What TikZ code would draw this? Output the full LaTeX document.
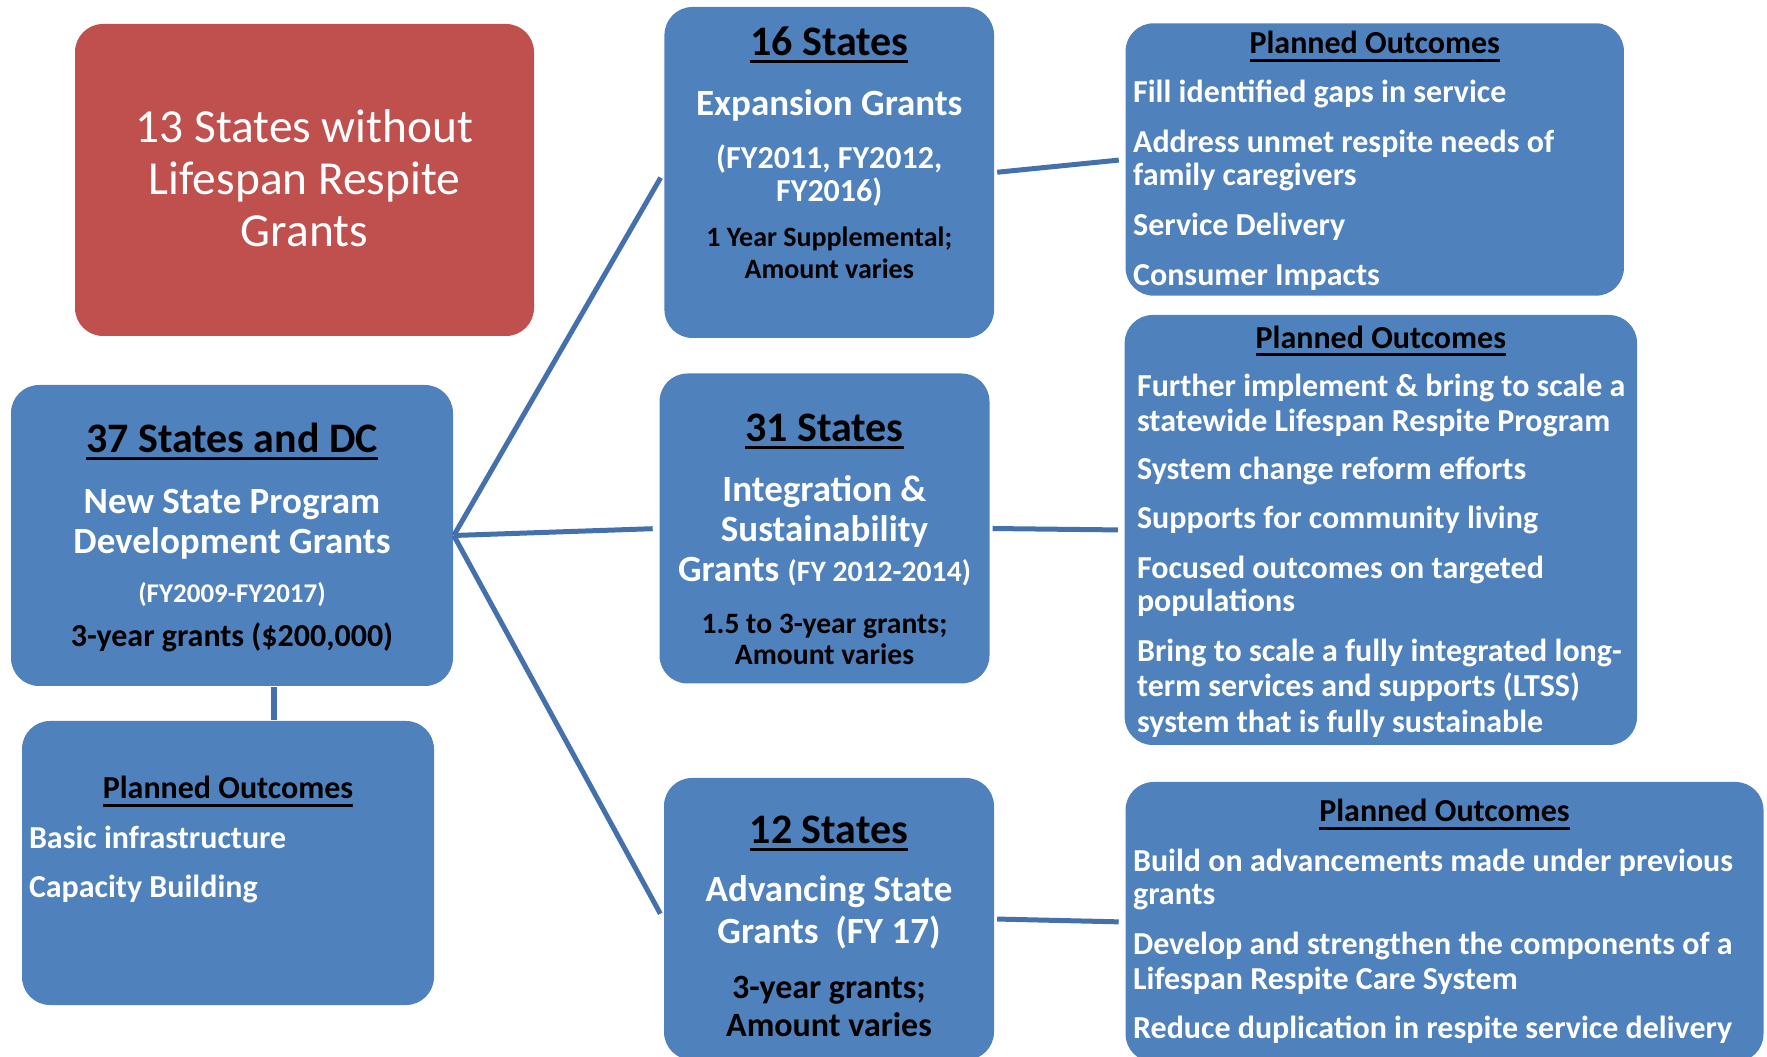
\documentclass[tikz,border=0pt]{standalone}
\usepackage{fontspec}
\setmainfont{Carlito}
\definecolor{grantblue}{HTML}{4F81BD}
\definecolor{grantred}{HTML}{C0504D}
\definecolor{linkblue}{HTML}{4471AB}
\newcommand{\fs}[2]{\fontsize{#1}{#2}\selectfont}
\newsavebox{\hdlbox}
\newcommand{\hdl}[1]{\sbox{\hdlbox}{#1}\rlap{\rule[-2pt]{\wd\hdlbox}{0.75pt}}\usebox{\hdlbox}}
\newcommand{\pane}[3]{\begin{minipage}[c][#2][t]{#1}#3\end{minipage}}
\begin{document}
\begin{tikzpicture}[x=0.25pt,y=-0.25pt,
   box/.style={rounded corners=7pt,inner sep=0pt,text=white},
   redbox/.style={box,fill=grantred},
   bluebox/.style={box,fill=grantblue,font=\bfseries},
   link/.style={draw=linkblue,line width=1.25pt,shorten >=1.5pt}]
   \useasboundingbox (0,0) rectangle (1767,1057);
   \clip (0,0) rectangle (1767,1057);

   \node[redbox] (r13) at (304.5,180) {\pane{114.75pt}{78pt}{\centering
      \fs{11.85}{13}\rule{0pt}{29.6pt}13 States without\\
      Lifespan Respite\\
      Grants}};

   \node[bluebox] (g37) at (232,535.5) {\pane{110.5pt}{75.25pt}{\centering
      \fs{10.5}{12}\rule{0pt}{16.8pt}\textcolor{black}{\hdl{37 States and DC}}\\
      \fs{9.25}{15.4}New State Program\\
      \fs{9.25}{9.9}Development Grants\\
      \fs{6.75}{12.3}(FY2009-FY2017)\\
      \fs{8}{11.1}\textcolor{black}{3-year grants (\$200,000)}}};

   \node[bluebox] (po37) at (228,863) {\pane{103pt}{71pt}{%
      \fs{8}{9}{\centering\rule{0pt}{19.4pt}\textcolor{black}{\hdl{Planned Outcomes}}\par}
      \leftskip=1.75pt\relax \rightskip=0pt plus 1fil\relax
      \fs{8}{12.4}Basic infrastructure\par
      \fs{8}{12.3}Capacity Building\par}};
   %%%%%%%%%%
   \node[bluebox] (s16) at (829.25,172.5) {\pane{82.4pt}{82.75pt}{\centering
      \fs{10.5}{12}\rule{0pt}{12.1pt}\textcolor{black}{\hdl{16 States}}\\
      \fs{9.25}{15}Expansion Grants\\
      \fs{8}{13.35}(FY2011, FY2012,\\
      \fs{8}{8.3}FY2016)\\
      \fs{7}{11.25}\textcolor{black}{1 Year Supplemental;}\\
      \fs{7}{7.9}\textcolor{black}{Amount varies}}};

   \node[bluebox] (s31) at (824.5,528.5) {\pane{82.5pt}{77.5pt}{\centering
      \fs{10.5}{12}\rule{0pt}{17pt}\textcolor{black}{\hdl{31 States}}\\
      \fs{9.25}{15}Integration \&\\
      \fs{9.25}{10}Sustainability\\
      \fs{9.25}{10}Grants {\fs{7.4}{10}(FY 2012-2014)}\\
      \fs{7.4}{12.9}\textcolor{black}{1.5 to 3-year grants;}\\
      \fs{7.4}{7.9}\textcolor{black}{Amount varies}}};

   \node[bluebox] (s12) at (829,919) {\pane{82.5pt}{70.5pt}{\centering
      \fs{10.5}{12}\rule{0pt}{16.3pt}\textcolor{black}{\hdl{12 States}}\\
      \fs{9.25}{14.7}Advancing State\\
      \fs{9.25}{10.4}Grants\ \ (FY 17)\\
      \fs{8.5}{13.75}\textcolor{black}{3-year grants;}\\
      \fs{8.5}{9.6}\textcolor{black}{Amount varies}}};
   %%%%%%%%%%
   \node[bluebox] (po1) at (1374.75,159.5) {\pane{124.6pt}{68.1pt}{%
      \fs{8}{9}{\centering\rule{0pt}{7.6pt}\textcolor{black}{\hdl{Planned Outcomes}}\par}
      \leftskip=1.9pt\relax \rightskip=0pt plus 1fil\relax
      \fs{8}{12.1}Fill identified gaps in service\par
      \fs{8}{12.5}Address unmet respite needs of\par
      \fs{8}{8.4}family caregivers\par
      \fs{8}{12.5}Service Delivery\par
      \fs{8}{12.35}Consumer Impacts\par}};

   \node[bluebox] (po2) at (1380.85,530) {\pane{128.1pt}{107.5pt}{%
      \fs{8}{9}{\centering\rule{0pt}{8.3pt}\textcolor{black}{\hdl{Planned Outcomes}}\par}
      \leftskip=3.1pt\relax \rightskip=0pt plus 1fil\relax
      \fs{8}{12.1}Further implement \& bring to scale a\par
      \fs{8}{8.75}statewide Lifespan Respite Program\par
      \fs{8}{12.1}System change reform efforts\par
      \fs{8}{12.1}Supports for community living\par
      \fs{8}{12.5}Focused outcomes on targeted\par
      \fs{8}{8.3}populations\par
      \fs{8}{12.5}Bring to scale a fully integrated long-\par
      \fs{8}{8.75}term services and supports (LTSS)\par
      \fs{8}{8.9}system that is fully sustainable\par}};

   \node[bluebox] (po3) at (1444.5,922) {\pane{159.5pt}{70pt}{%
      \fs{8}{9}{\centering\rule{0pt}{9.9pt}\textcolor{black}{\hdl{Planned Outcomes}}\par}
      \leftskip=1.9pt\relax \rightskip=0pt plus 1fil\relax
      \fs{8}{12.5}Build on advancements made under previous\par
      \fs{8}{8.3}grants\par
      \fs{8}{12.5}Develop and strengthen the components of a\par
      \fs{8}{8.75}Lifespan Respite Care System\par
      \fs{8}{12.1}Reduce duplication in respite service delivery\par}};
   %%%%%%%%%%
   \draw[link] (g37.east) -- (s16.west);
   \draw[link] (g37.east) -- (s31.west);
   \draw[link] (g37.east) -- (s12.west);
   \draw[link,shorten <=0.6pt] (s16.east) -- (po1.west);
   \draw[link,shorten <=0.6pt] (s31.east) -- (po2.west);
   \draw[link,shorten <=0.6pt] (s12.east) -- (po3.west);

   \coordinate (tap) at (274,700);
   \draw[link,line width=1.5pt,shorten >=0pt] (g37.south -| tap) -- (po37.north -| tap);
\end{tikzpicture}
\end{document}
